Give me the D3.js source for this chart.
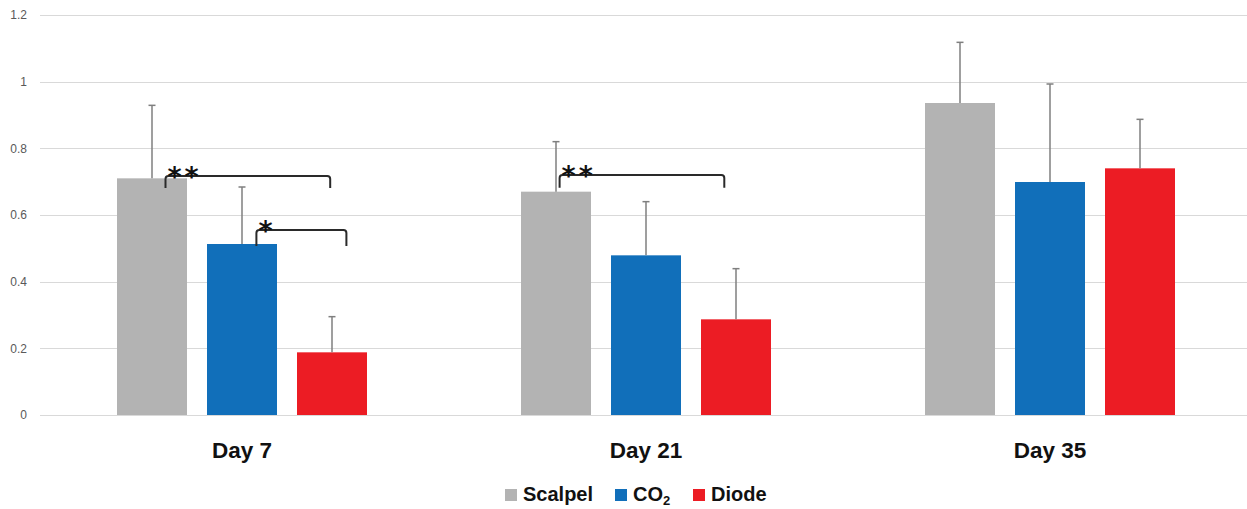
<!DOCTYPE html>
<html>
<head>
<meta charset="utf-8">
<script src="https://cdn.jsdelivr.net/npm/d3@7"></script>
<style>
  html, body { margin: 0; padding: 0; background: #fff; }
  svg { display: block; }
</style>
</head>
<body>
<svg id="chart" width="1247" height="509"></svg>
<script>
// ---- Data ----
const categories = ["Day 7", "Day 21", "Day 35"];
const seriesNames = ["Scalpel", "CO2", "Diode"];
const scalpelMeans = [0.71, 0.67, 0.936];
const scalpelErrTop = [0.929, 0.82, 1.118];
const co2Means = [0.513, 0.479, 0.699];
const co2ErrTop = [0.684, 0.64, 0.993];
const diodeMeans = [0.188, 0.287, 0.740];
const diodeErrTop = [0.295, 0.439, 0.887];
const yTicks = [0, 0.2, 0.4, 0.6, 0.8, 1, 1.2];
const colors = ["#b3b3b3", "#116fba", "#ec1c24"];
// significance brackets: category, from (fractional series index), to, bar y, leg bottom y, label
const brackets = [
  { cat: "Day 7", from: 0.15, to: 1.98, y: 0.717, legY: 0.681, label: "**" },
  { cat: "Day 7", from: 1.16, to: 2.16, y: 0.555, legY: 0.507, label: "*" },
  { cat: "Day 21", from: 0.04, to: 1.87, y: 0.72, legY: 0.682, label: "**" }
];

const means = [scalpelMeans, co2Means, diodeMeans];
const errTops = [scalpelErrTop, co2ErrTop, diodeErrTop];

const svg = d3.select("#chart");
const plotLeft = 40, plotRight = 1252, plotTop = 15, plotBottom = 415;

const y = d3.scaleLinear().domain([0, 1.2]).range([plotBottom, plotTop]);
const x0 = d3.scaleBand().domain(categories).range([plotLeft, plotRight]).padding(0);
const groupWidth = 250;
const x1 = d3.scaleBand().domain(d3.range(seriesNames.length)).range([0, groupWidth])
  .paddingInner(20 / 90).paddingOuter(0);
const groupStart = c => x0(c) + (x0.bandwidth() - groupWidth) / 2;
const barCenter = (c, s) => groupStart(c) + x1(s) + x1.bandwidth() / 2;
const stepW = x1.step();

// gridlines
svg.append("g")
  .selectAll("line")
  .data(yTicks)
  .join("line")
  .attr("x1", 40).attr("x2", 1247)
  .attr("y1", d => Math.round(y(d)) + 0.5).attr("y2", d => Math.round(y(d)) + 0.5)
  .attr("stroke", "#d9d9d9").attr("stroke-width", 1);

// y axis labels
const yAxis = d3.axisLeft(y).tickValues(yTicks).tickSize(0).tickPadding(0)
  .tickFormat(d => d3.format("~g")(d));
const yg = svg.append("g").attr("transform", "translate(27,0)").call(yAxis);
yg.select(".domain").remove();
yg.selectAll("text")
  .attr("font-family", "'Liberation Sans', Arial, sans-serif")
  .attr("font-size", 12).attr("fill", "#595959");

// bars
const barData = [];
categories.forEach((c, ci) => {
  seriesNames.forEach((s, si) => {
    barData.push({ cat: c, si, v: means[si][ci], top: errTops[si][ci] });
  });
});

svg.append("g").selectAll("rect")
  .data(barData)
  .join("rect")
  .attr("x", d => groupStart(d.cat) + x1(d.si))
  .attr("width", x1.bandwidth())
  .attr("y", d => y(d.v))
  .attr("height", d => y(0) - y(d.v))
  .attr("fill", d => colors[d.si]);

// error bars (upper only)
const eg = svg.append("g").attr("stroke", "#7f7f7f").attr("stroke-width", 1.5);
eg.selectAll("line.stem")
  .data(barData)
  .join("line")
  .attr("class", "stem")
  .attr("x1", d => barCenter(d.cat, d.si)).attr("x2", d => barCenter(d.cat, d.si))
  .attr("y1", d => y(d.v)).attr("y2", d => y(d.top));
eg.selectAll("line.cap")
  .data(barData)
  .join("line")
  .attr("class", "cap")
  .attr("x1", d => barCenter(d.cat, d.si) - 3.5).attr("x2", d => barCenter(d.cat, d.si) + 3.5)
  .attr("y1", d => y(d.top)).attr("y2", d => y(d.top));

// significance brackets
const bg = svg.append("g");
brackets.forEach(b => {
  const xa = barCenter(b.cat, 0) + b.from * stepW;
  const xb = barCenter(b.cat, 0) + b.to * stepW;
  const ya = y(b.y), yl = y(b.legY);
  const r = 3;
  bg.append("path")
    .attr("d", `M${xa},${yl} L${xa},${ya + r} Q${xa},${ya} ${xa + r},${ya} L${xb - r},${ya} Q${xb},${ya} ${xb},${ya + r} L${xb},${yl}`)
    .attr("fill", "none").attr("stroke", "#2a2a2a").attr("stroke-width", 2);
  bg.append("text")
    .attr("x", xa + 2).attr("y", ya + 10)
    .attr("font-family", "'DejaVu Sans', sans-serif")
    .attr("font-weight", "bold")
    .attr("font-size", 27)
    .attr("letter-spacing", 3)
    .attr("fill", "#111")
    .text(b.label);
});

// category labels
svg.append("g").selectAll("text")
  .data(categories)
  .join("text")
  .attr("x", d => x0(d) + x0.bandwidth() / 2)
  .attr("y", 458)
  .attr("text-anchor", "middle")
  .attr("font-family", "'Liberation Sans', Arial, sans-serif")
  .attr("font-weight", "bold")
  .attr("font-size", 22.5)
  .attr("fill", "#111")
  .text(d => d);

// legend
const legendX = [505, 615, 693];
const lg = svg.append("g");
seriesNames.forEach((s, i) => {
  lg.append("rect").attr("x", legendX[i]).attr("y", 489).attr("width", 12).attr("height", 12)
    .attr("fill", colors[i]);
  const t = lg.append("text").attr("x", legendX[i] + 18).attr("y", 501)
    .attr("font-family", "'Liberation Sans', Arial, sans-serif")
    .attr("font-weight", "bold").attr("font-size", 20).attr("fill", "#111");
  if (s === "CO2") {
    t.append("tspan").text("CO");
    t.append("tspan").attr("font-size", 13).attr("dy", 4).text("2");
  } else {
    t.text(s);
  }
});
</script>
</body>
</html>
